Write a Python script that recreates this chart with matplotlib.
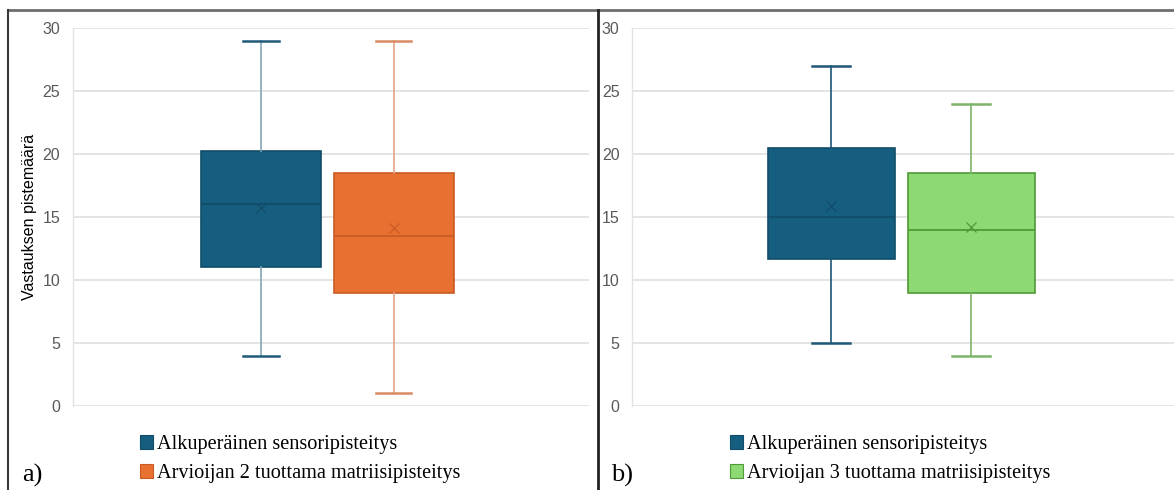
import matplotlib
matplotlib.use("Agg")
import matplotlib.pyplot as plt
from matplotlib.patches import Patch
from matplotlib.lines import Line2D

# box statistics
labels_a = ["Alkuperäinen sensoripisteitys", "Arvioijan 2 tuottama matriisipisteitys"]
labels_b = ["Alkuperäinen sensoripisteitys", "Arvioijan 3 tuottama matriisipisteitys"]

whislo_a = [4, 1]
q1_a = [11, 9]
med_a = [16, 13.5]
q3_a = [20.2, 18.5]
whishi_a = [29, 29]
mean_a = [15.7, 14.1]

whislo_b = [5, 4]
q1_b = [11.7, 9]
med_b = [15, 14]
q3_b = [20.5, 18.5]
whishi_b = [27, 24]
mean_b = [15.9, 14.2]

yticks = [0, 5, 10, 15, 20, 25, 30]

fill_a = ["#165E80", "#E87031"]
edge_a = ["#114D69", "#C95B24"]
stem_a = ["#84A6B8", "#E4A486"]
cap_a = ["#1E5B79", "#DA8A63"]

fill_b = ["#165E80", "#8DD973"]
edge_b = ["#114D69", "#4F9A36"]
stem_b = ["#1D5877", "#7DB46B"]
cap_b = ["#1D5877", "#7DB46B"]

W, H = 1174, 490
fig = plt.figure(figsize=(W / 100, H / 100), dpi=100)


def panel(rect, wlo, q1, med, q3, whi, mean, pos, width, capw, fills, edges, stems, caps):
    ax = fig.add_axes(rect)
    for i in range(len(med)):
        st = [{"whislo": wlo[i], "q1": q1[i], "med": med[i], "q3": q3[i],
               "whishi": whi[i], "mean": mean[i], "fliers": []}]
        ax.bxp(st, positions=[pos[i]], widths=width, capwidths=capw,
               patch_artist=True, showmeans=True, manage_ticks=False,
               boxprops=dict(facecolor=fills[i], edgecolor=edges[i], linewidth=1.2),
               medianprops=dict(color=edges[i], linewidth=1.3),
               whiskerprops=dict(color=stems[i], linewidth=1.2),
               capprops=dict(color=caps[i], linewidth=1.8),
               meanprops=dict(marker="x", markeredgecolor=edges[i], markersize=7,
                              markeredgewidth=0.9),
               zorder=3)
    ax.set_xlim(0, 1)
    ax.set_ylim(0, 30)
    ax.set_yticks(yticks)
    ax.set_xticks([])
    ax.grid(axis="y", color="#DCDCDC", linewidth=1.1, zorder=0)
    for s in ["top", "right", "bottom"]:
        ax.spines[s].set_visible(False)
    ax.spines["left"].set_color("#E2E2E2")
    ax.spines["left"].set_linewidth(1.0)
    ax.tick_params(axis="y", length=0, pad=9, labelsize=11.5, labelcolor="#595959")
    for t in ax.get_yticklabels():
        t.set_fontfamily("Liberation Sans")
    return ax


def fx(px):
    return px / W


def fy(py):
    return 1 - py / H


ax1 = panel([fx(72.7), fy(406), fx(589 - 72.7), (406 - 28) / H],
            whislo_a, q1_a, med_a, q3_a, whishi_a, mean_a,
            [0.3647, 0.622], 0.2324, 0.068, fill_a, edge_a, stem_a, cap_a)
ax1.set_ylabel("Vastauksen pistemäärä", fontsize=11.5, family="Liberation Sans",
               color="black", labelpad=4)

ax2 = panel([fx(632), fy(406), fx(1174 - 632), (406 - 28) / H],
            whislo_b, q1_b, med_b, q3_b, whishi_b, mean_b,
            [0.368, 0.6255], 0.2343, 0.07, fill_b, edge_b, stem_b, cap_b)

# frame lines around the two panels
fig.add_artist(Line2D([fx(8), 1], [fy(10.5), fy(10.5)], color="#6E6E6E", linewidth=2,
                      transform=fig.transFigure))
fig.add_artist(Line2D([fx(8.3), fx(8.3)], [fy(10), 0], color="#3A3A3A", linewidth=1.5,
                      transform=fig.transFigure))
fig.add_artist(Line2D([fx(597.5), fx(597.5)], [fy(10), 0], color="#222222", linewidth=2,
                      transform=fig.transFigure))

# legends
for ax_labels, fills, edges, x0 in [(labels_a, fill_a, edge_a, 130), (labels_b, fill_b, edge_b, 720)]:
    handles = [Patch(facecolor=f, edgecolor=e, linewidth=0.8) for f, e in zip(fills, edges)]
    fig.legend(handles, ax_labels, loc="upper left", bbox_to_anchor=(fx(x0), fy(425)),
               frameon=False, borderpad=0, handlelength=0.65, handleheight=0.65,
               handletextpad=0.2, labelspacing=0.5,
               prop=dict(family="Liberation Serif", size=14.6))

fig.text(fx(22), fy(482), "a)", fontsize=19, family="Liberation Serif")
fig.text(fx(611), fy(482), "b)", fontsize=19, family="Liberation Serif")

fig.savefig("out.png", dpi=100)
